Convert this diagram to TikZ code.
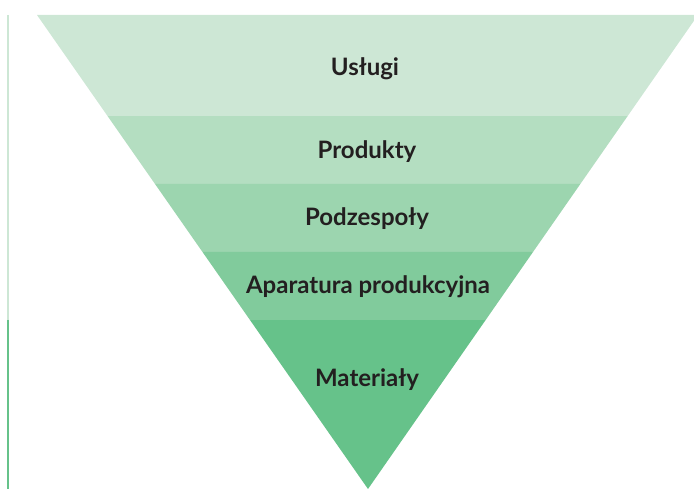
\documentclass[tikz,border=0pt]{standalone}
\usepackage{fontspec}
\setmainfont{Lato}
\usetikzlibrary{calc}
\definecolor{b1}{HTML}{CDE7D5}
\definecolor{b2}{HTML}{B4DEC1}
\definecolor{b3}{HTML}{9CD5AF}
\definecolor{b4}{HTML}{81CB9C}
\definecolor{b5}{HTML}{66C28A}
\definecolor{txt}{HTML}{231F20}
\begin{document}
\begin{tikzpicture}[x=1pt,y=-1pt,
  lbl/.style={font=\fontsize{24}{26}\selectfont\bfseries, text=txt, anchor=center}]
\useasboundingbox (0,0) rectangle (694,489);
\coordinate (TL) at (37,15);
\coordinate (TR) at (698,15);
\coordinate (A) at (368,489);
\coordinate (L1) at ($(TL)!0.2131!(A)$);
\coordinate (R1) at ($(TR)!0.2131!(A)$);
\coordinate (L2) at ($(TL)!0.3565!(A)$);
\coordinate (R2) at ($(TR)!0.3565!(A)$);
\coordinate (L3) at ($(TL)!0.5!(A)$);
\coordinate (R3) at ($(TR)!0.5!(A)$);
\coordinate (L4) at ($(TL)!0.6435!(A)$);
\coordinate (R4) at ($(TR)!0.6435!(A)$);
\begin{scope}
\clip (0,0) rectangle (694,489);
\fill[b1] (TL) -- (TR) -- (R1) -- (L1) -- cycle;
\fill[b2] (L1) -- (R1) -- (R2) -- (L2) -- cycle;
\fill[b3] (L2) -- (R2) -- (R3) -- (L3) -- cycle;
\fill[b4] (L3) -- (R3) -- (R4) -- (L4) -- cycle;
\fill[b5] (L4) -- (R4) -- (A) -- cycle;
\end{scope}
\draw[b1, line width=1.5pt] (8,15) -- (8,320);
\draw[b5, line width=1.5pt] (8,320) -- (8,489);
\node[lbl] (u) at (365,69) {Usługi};
\node[lbl] (p) at (367,152) {Produkty};
\node[lbl] (s) at (367,219) {Podzespoły};
\node[lbl] (a) at (368,287) {Aparatura produkcyjna};
\node[lbl] (m) at (367,380) {Materiały};
\end{tikzpicture}
\end{document}
